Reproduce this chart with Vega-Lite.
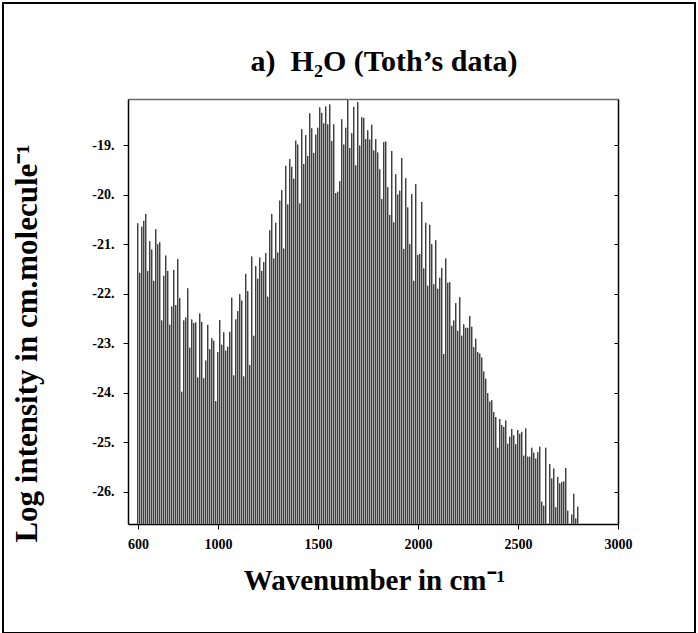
{
  "$schema": "https://vega.github.io/schema/vega-lite/v6.json",
  "width": 692,
  "height": 630,
  "padding": {"left": 3, "top": 3, "right": 3, "bottom": 0},
  "autosize": {"type": "none"},
  "background": "white",
  "config": {
    "view": {"stroke": "#000000", "strokeWidth": 2},
    "font": "Liberation Serif"
  },
  "title": {
    "text": "a)\u00a0 H\u2082O (Toth\u2019s data)",
    "font": "Liberation Serif",
    "fontSize": 30,
    "fontWeight": "bold",
    "color": "#000000",
    "anchor": "middle",
    "frame": "group",
    "baseline": "alphabetic",
    "offset": -98,
    "dx": 35
  },
  "data": {
    "values": [
      {"wn": 600, "v": -20.58}, {"wn": 610, "v": -21.58}, {"wn": 620, "v": -20.65}, {"wn": 630, "v": -20.53},
      {"wn": 640, "v": -20.39}, {"wn": 650, "v": -21.54}, {"wn": 660, "v": -20.94}, {"wn": 670, "v": -21.11},
      {"wn": 680, "v": -21.74}, {"wn": 690, "v": -20.70}, {"wn": 700, "v": -21.00}, {"wn": 710, "v": -20.96},
      {"wn": 720, "v": -22.54}, {"wn": 730, "v": -21.64}, {"wn": 740, "v": -21.23}, {"wn": 750, "v": -21.54},
      {"wn": 760, "v": -22.63}, {"wn": 770, "v": -22.26}, {"wn": 780, "v": -21.52}, {"wn": 790, "v": -22.23},
      {"wn": 800, "v": -21.30}, {"wn": 810, "v": -22.09}, {"wn": 820, "v": -23.98}, {"wn": 830, "v": -22.54},
      {"wn": 840, "v": -22.48}, {"wn": 850, "v": -21.89}, {"wn": 860, "v": -23.09}, {"wn": 870, "v": -22.52},
      {"wn": 880, "v": -22.59}, {"wn": 890, "v": -22.58}, {"wn": 900, "v": -23.69}, {"wn": 910, "v": -22.40},
      {"wn": 920, "v": -22.57}, {"wn": 930, "v": -23.71}, {"wn": 940, "v": -23.35}, {"wn": 950, "v": -22.63},
      {"wn": 960, "v": -23.12}, {"wn": 970, "v": -22.90}, {"wn": 980, "v": -22.95}, {"wn": 990, "v": -24.17},
      {"wn": 1000, "v": -23.18}, {"wn": 1010, "v": -22.53}, {"wn": 1020, "v": -23.03}, {"wn": 1030, "v": -22.78},
      {"wn": 1040, "v": -23.15}, {"wn": 1050, "v": -23.07}, {"wn": 1060, "v": -22.77}, {"wn": 1070, "v": -22.08},
      {"wn": 1080, "v": -23.65}, {"wn": 1090, "v": -22.52}, {"wn": 1100, "v": -22.35}, {"wn": 1110, "v": -22.01},
      {"wn": 1120, "v": -22.14}, {"wn": 1130, "v": -23.67}, {"wn": 1140, "v": -21.60}, {"wn": 1150, "v": -21.95},
      {"wn": 1160, "v": -23.44}, {"wn": 1170, "v": -21.25}, {"wn": 1180, "v": -22.85}, {"wn": 1190, "v": -21.44},
      {"wn": 1200, "v": -21.70}, {"wn": 1210, "v": -21.27}, {"wn": 1220, "v": -21.54}, {"wn": 1230, "v": -21.36},
      {"wn": 1240, "v": -21.18}, {"wn": 1250, "v": -22.06}, {"wn": 1260, "v": -20.72}, {"wn": 1270, "v": -20.39},
      {"wn": 1280, "v": -21.29}, {"wn": 1290, "v": -20.57}, {"wn": 1300, "v": -21.17}, {"wn": 1310, "v": -20.12},
      {"wn": 1320, "v": -19.91}, {"wn": 1330, "v": -21.09}, {"wn": 1340, "v": -19.42}, {"wn": 1350, "v": -20.20},
      {"wn": 1360, "v": -19.28}, {"wn": 1370, "v": -19.44}, {"wn": 1380, "v": -19.68}, {"wn": 1390, "v": -18.91},
      {"wn": 1400, "v": -18.99}, {"wn": 1410, "v": -20.18}, {"wn": 1420, "v": -18.68}, {"wn": 1430, "v": -19.38},
      {"wn": 1440, "v": -18.80}, {"wn": 1450, "v": -19.22}, {"wn": 1460, "v": -18.36}, {"wn": 1470, "v": -18.66},
      {"wn": 1480, "v": -19.16}, {"wn": 1490, "v": -18.79}, {"wn": 1500, "v": -18.65}, {"wn": 1510, "v": -18.24},
      {"wn": 1520, "v": -18.35}, {"wn": 1530, "v": -18.56}, {"wn": 1540, "v": -18.22}, {"wn": 1550, "v": -18.58},
      {"wn": 1560, "v": -18.18}, {"wn": 1570, "v": -18.92}, {"wn": 1580, "v": -18.58}, {"wn": 1590, "v": -19.97},
      {"wn": 1600, "v": -19.94}, {"wn": 1610, "v": -19.73}, {"wn": 1620, "v": -18.48}, {"wn": 1630, "v": -18.99},
      {"wn": 1640, "v": -18.65}, {"wn": 1650, "v": -18.07}, {"wn": 1660, "v": -19.06}, {"wn": 1670, "v": -18.76},
      {"wn": 1680, "v": -18.23}, {"wn": 1690, "v": -19.41}, {"wn": 1700, "v": -18.13}, {"wn": 1710, "v": -19.01},
      {"wn": 1720, "v": -18.44}, {"wn": 1730, "v": -18.45}, {"wn": 1740, "v": -18.88}, {"wn": 1750, "v": -18.70},
      {"wn": 1760, "v": -18.89}, {"wn": 1770, "v": -18.59}, {"wn": 1780, "v": -19.11}, {"wn": 1790, "v": -18.88},
      {"wn": 1800, "v": -19.15}, {"wn": 1810, "v": -19.49}, {"wn": 1820, "v": -20.09}, {"wn": 1830, "v": -18.94},
      {"wn": 1840, "v": -18.93}, {"wn": 1850, "v": -19.85}, {"wn": 1860, "v": -20.41}, {"wn": 1870, "v": -19.12},
      {"wn": 1880, "v": -20.56}, {"wn": 1890, "v": -19.59}, {"wn": 1900, "v": -20.00}, {"wn": 1910, "v": -19.92},
      {"wn": 1920, "v": -19.26}, {"wn": 1930, "v": -21.10}, {"wn": 1940, "v": -19.67}, {"wn": 1950, "v": -20.26},
      {"wn": 1960, "v": -21.00}, {"wn": 1970, "v": -19.99}, {"wn": 1980, "v": -21.74}, {"wn": 1990, "v": -19.79},
      {"wn": 2000, "v": -21.22}, {"wn": 2010, "v": -21.20}, {"wn": 2020, "v": -20.15}, {"wn": 2030, "v": -21.49},
      {"wn": 2040, "v": -20.57}, {"wn": 2050, "v": -21.84}, {"wn": 2060, "v": -20.61}, {"wn": 2070, "v": -21.00},
      {"wn": 2080, "v": -21.81}, {"wn": 2090, "v": -20.92}, {"wn": 2100, "v": -21.90}, {"wn": 2110, "v": -21.68},
      {"wn": 2120, "v": -21.48}, {"wn": 2130, "v": -23.22}, {"wn": 2140, "v": -21.29}, {"wn": 2150, "v": -21.78},
      {"wn": 2160, "v": -21.77}, {"wn": 2170, "v": -22.65}, {"wn": 2180, "v": -22.54}, {"wn": 2190, "v": -22.19},
      {"wn": 2200, "v": -22.75}, {"wn": 2210, "v": -22.07}, {"wn": 2220, "v": -22.85}, {"wn": 2230, "v": -22.62},
      {"wn": 2240, "v": -22.69}, {"wn": 2250, "v": -22.69}, {"wn": 2260, "v": -22.45}, {"wn": 2270, "v": -22.67},
      {"wn": 2280, "v": -23.08}, {"wn": 2290, "v": -22.91}, {"wn": 2300, "v": -23.18}, {"wn": 2310, "v": -23.21},
      {"wn": 2320, "v": -23.29}, {"wn": 2330, "v": -23.57}, {"wn": 2340, "v": -23.72}, {"wn": 2350, "v": -24.01},
      {"wn": 2360, "v": -24.18}, {"wn": 2370, "v": -24.15}, {"wn": 2380, "v": -24.39}, {"wn": 2390, "v": -24.49},
      {"wn": 2400, "v": -25.11}, {"wn": 2410, "v": -24.53}, {"wn": 2420, "v": -24.65}, {"wn": 2430, "v": -24.69},
      {"wn": 2440, "v": -24.56}, {"wn": 2450, "v": -25.03}, {"wn": 2460, "v": -24.89}, {"wn": 2470, "v": -24.73},
      {"wn": 2480, "v": -24.86}, {"wn": 2490, "v": -25.04}, {"wn": 2500, "v": -24.75}, {"wn": 2510, "v": -24.83},
      {"wn": 2520, "v": -24.79}, {"wn": 2530, "v": -25.27}, {"wn": 2540, "v": -24.72}, {"wn": 2550, "v": -25.29},
      {"wn": 2560, "v": -25.29}, {"wn": 2570, "v": -25.11}, {"wn": 2580, "v": -25.21}, {"wn": 2590, "v": -25.33},
      {"wn": 2600, "v": -25.20}, {"wn": 2610, "v": -25.09}, {"wn": 2620, "v": -26.20}, {"wn": 2630, "v": -26.28},
      {"wn": 2640, "v": -25.11}, {"wn": 2660, "v": -25.44}, {"wn": 2670, "v": -25.73}, {"wn": 2680, "v": -25.53},
      {"wn": 2690, "v": -26.31}, {"wn": 2700, "v": -25.70}, {"wn": 2710, "v": -25.83}, {"wn": 2720, "v": -25.80},
      {"wn": 2730, "v": -25.79}, {"wn": 2740, "v": -25.52}, {"wn": 2750, "v": -26.38}, {"wn": 2770, "v": -26.46},
      {"wn": 2780, "v": -26.04}, {"wn": 2790, "v": -26.54}, {"wn": 2800, "v": -26.30}
    ]
  },
  "layer": [
    {
      "mark": {"type": "rule", "stroke": "#a8a8a8", "strokeWidth": 2},
      "encoding": {
        "x": {
          "field": "wn", "type": "quantitative",
          "scale": {"domain": [550, 3000], "range": [125, 615], "nice": false, "zero": false},
          "axis": {
            "orient": "bottom", "offset": -109,
            "values": [600, 1000, 1500, 2000, 2500, 3000],
            "format": "d",
            "grid": false, "domainColor": "#000000", "domainWidth": 1.5,
            "tickColor": "#000000", "tickSize": 5, "tickWidth": 1,
            "labelFont": "Liberation Serif", "labelFontWeight": "bold", "labelFontSize": 14, "labelColor": "#000000",
            "labelPadding": 8, "labelFlush": false,
            "title": "Wavenumber in cm\u207b\u00b9",
            "titleFont": "Liberation Serif", "titleFontWeight": "bold", "titleFontSize": 29, "titleColor": "#000000",
            "titleX": 371, "titleY": 65, "titleBaseline": "alphabetic", "titleAlign": "center", "titleAnchor": null
          }
        },
        "y": {
          "field": "v", "type": "quantitative",
          "scale": {"domain": [-26.65, -18.07], "range": [521, 96], "nice": false, "zero": false},
          "axis": {
            "orient": "left", "offset": -125,
            "values": [-19, -20, -21, -22, -23, -24, -25, -26],
            "labelExpr": "'-' + abs(datum.value) + '.'",
            "grid": false, "domainColor": "#000000", "domainWidth": 1.5,
            "tickColor": "#000000", "tickSize": 5, "tickWidth": 1,
            "labelFont": "Liberation Serif", "labelFontWeight": "bold", "labelFontSize": 14, "labelColor": "#000000",
            "labelPadding": 9,
            "title": "Log intensity in cm.molecule\u207b\u00b9",
            "titleFont": "Liberation Serif", "titleFontWeight": "bold", "titleFontSize": 31, "titleColor": "#000000",
            "titleAngle": 270, "titleX": -101, "titleY": 340, "titleBaseline": "middle", "titleAlign": "center", "titleAnchor": null
          }
        },
        "y2": {"datum": -26.65}
      }
    },
    {
      "mark": {"type": "rule", "stroke": "#404040", "strokeWidth": 1, "xOffset": -0.5},
      "encoding": {
        "x": {"field": "wn", "type": "quantitative", "axis": null},
        "y": {"field": "v", "type": "quantitative", "axis": null},
        "y2": {"datum": -26.65}
      }
    },
    {
      "mark": {"type": "rule", "opacity": 0},
      "encoding": {
        "x": {
          "field": "wn", "type": "quantitative",
          "axis": {
            "orient": "top", "offset": -96, "labels": false, "ticks": false, "grid": false,
            "domainColor": "#6a6a6a", "domainWidth": 1.5, "title": null
          }
        },
        "y": {
          "field": "v", "type": "quantitative",
          "axis": {
            "orient": "right", "offset": -77, "labels": false, "grid": false,
            "values": [-19, -20, -21, -22, -23, -24, -25, -26],
            "domainColor": "#000000", "domainWidth": 1.5,
            "tickColor": "#000000", "tickSize": -4, "tickWidth": 1, "title": null
          }
        },
        "y2": {"datum": -26.65}
      }
    }
  ],
  "resolve": {"axis": {"x": "independent", "y": "independent"}}
}
